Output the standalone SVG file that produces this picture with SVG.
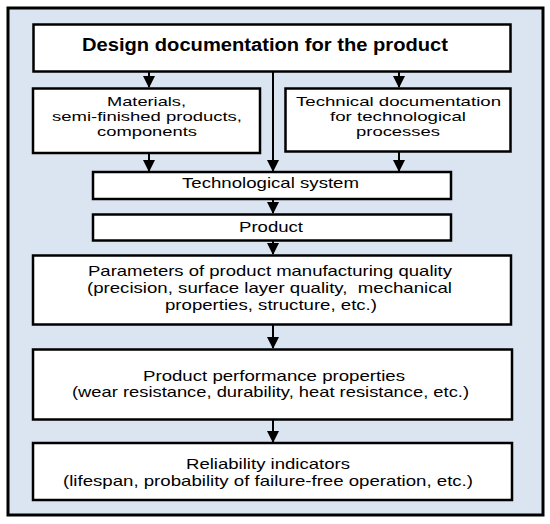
<svg xmlns="http://www.w3.org/2000/svg" width="550" height="524" viewBox="0 0 550 524">
<style>
.frame{fill:#dbe5f1;stroke:#000;stroke-width:3}
.box{fill:#fff;stroke:#000;stroke-width:2.5}
.t{font-family:"Liberation Sans",Arial,sans-serif;font-size:15px;fill:#000;text-anchor:middle}
.s{font-size:13px}
.tb{font-family:"Liberation Sans",Arial,sans-serif;font-size:18px;font-weight:bold;fill:#000;text-anchor:middle}
.c{stroke:#000;stroke-width:2;fill:none;marker-end:url(#ah)}
</style>
<defs>
<marker id="ah" viewBox="0 0 12 12" refX="11" refY="6" markerWidth="12" markerHeight="12" markerUnits="userSpaceOnUse" orient="auto">
<path d="M0,0 L12,6 L0,12 Z" fill="#000"/>
</marker>
</defs>
<rect width="550" height="524" fill="#fff"/>
<rect class="frame" x="8" y="8" width="535" height="507"/>
<g id="connectors">
<line class="c" x1="149" y1="72" x2="149" y2="87"/>
<line class="c" x1="399" y1="72" x2="399" y2="87"/>
<line class="c" x1="273" y1="72" x2="273" y2="171"/>
<line class="c" x1="149" y1="153" x2="149" y2="171"/>
<line class="c" x1="399" y1="152" x2="399" y2="171"/>
<line class="c" x1="273" y1="199" x2="273" y2="213"/>
<line class="c" x1="273" y1="241" x2="273" y2="254"/>
<line class="c" x1="273" y1="325" x2="273" y2="348"/>
<line class="c" x1="273" y1="420" x2="273" y2="442"/>
</g>
<g id="design">
<rect class="box" x="33.5" y="24.5" width="477" height="47"/>
<text class="tb" x="265" y="51" textLength="366" lengthAdjust="spacingAndGlyphs">Design documentation for the product</text>
</g>
<g id="materials">
<rect class="box" x="33" y="88.5" width="227" height="64.5"/>
<text class="t s" x="146.5" y="105.5" textLength="79" lengthAdjust="spacingAndGlyphs">Materials,</text>
<text class="t s" x="147" y="120.5" textLength="190" lengthAdjust="spacingAndGlyphs">semi-finished products,</text>
<text class="t s" x="147" y="135.5" textLength="100" lengthAdjust="spacingAndGlyphs">components</text>
</g>
<g id="techdoc">
<rect class="box" x="285.5" y="88.5" width="225" height="63"/>
<text class="t s" x="398.5" y="105.5" textLength="205" lengthAdjust="spacingAndGlyphs">Technical documentation</text>
<text class="t s" x="398" y="120.5" textLength="136" lengthAdjust="spacingAndGlyphs">for technological</text>
<text class="t s" x="398" y="135.5" textLength="84" lengthAdjust="spacingAndGlyphs">processes</text>
</g>
<g id="techsystem">
<rect class="box" x="93" y="172" width="358" height="27"/>
<text class="t" x="270.5" y="187.5" textLength="177" lengthAdjust="spacingAndGlyphs">Technological system</text>
</g>
<g id="product">
<rect class="box" x="93" y="214.5" width="358" height="26"/>
<text class="t" x="271" y="232" textLength="64" lengthAdjust="spacingAndGlyphs">Product</text>
</g>
<g id="parameters">
<rect class="box" x="33" y="255.5" width="478" height="69"/>
<text class="t" x="270" y="275.5" textLength="364" lengthAdjust="spacingAndGlyphs">Parameters of product manufacturing quality</text>
<text class="t" x="269.5" y="292.5" textLength="365" lengthAdjust="spacingAndGlyphs" style="white-space:pre">(precision, surface layer quality,  mechanical</text>
<text class="t" x="271" y="310" textLength="212" lengthAdjust="spacingAndGlyphs">properties, structure, etc.)</text>
</g>
<g id="performance">
<rect class="box" x="33" y="349.5" width="479" height="70"/>
<text class="t" x="274" y="381" textLength="262" lengthAdjust="spacingAndGlyphs">Product performance properties</text>
<text class="t" x="270.5" y="397" textLength="397" lengthAdjust="spacingAndGlyphs">(wear resistance, durability, heat resistance, etc.)</text>
</g>
<g id="reliability">
<rect class="box" x="33" y="443" width="479" height="57"/>
<text class="t" x="268" y="468.5" textLength="164" lengthAdjust="spacingAndGlyphs">Reliability indicators</text>
<text class="t" x="268" y="486" textLength="410" lengthAdjust="spacingAndGlyphs">(lifespan, probability of failure-free operation, etc.)</text>
</g>
</svg>
